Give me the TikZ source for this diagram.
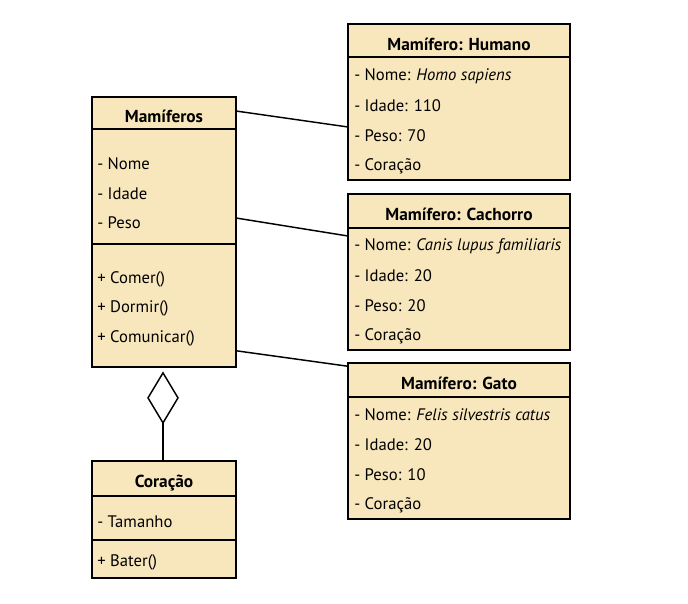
\documentclass[tikz,border=0pt]{standalone}
\usepackage{fontspec}
\setmainfont{PT Sans}
\usetikzlibrary{calc}
\definecolor{boxfill}{RGB}{248,231,189}
\begin{document}
\begin{tikzpicture}[x=0.75pt,y=-0.75pt,
  umlbox/.style={draw=black, line width=1.3pt, fill=boxfill, inner sep=0pt},
  divider/.style={line width=1.3pt},
  conn/.style={line width=1.1pt},
  title/.style={font=\fontsize{13}{15}\selectfont\bfseries, inner sep=0pt},
  attr/.style={font=\fontsize{12.5}{14}\selectfont, anchor=west, inner sep=0pt}]
\useasboundingbox (0,0) rectangle (688,603);
% boxes
\node[umlbox, minimum width=108pt, minimum height=202.5pt] (mam) at (164,232) {};
\node[umlbox, minimum width=108pt, minimum height=87.75pt] (cor) at (164,519.5) {};
\node[umlbox, minimum width=166.5pt, minimum height=117pt] (hum) at (459,102) {};
\node[umlbox, minimum width=166.5pt, minimum height=117pt] (cac) at (459,272) {};
\node[umlbox, minimum width=166.5pt, minimum height=117pt] (gat) at (459,441) {};
% dividers
\draw[divider] ($(mam.north west)+(0,33)$) -- ($(mam.north east)+(0,33)$);
\draw[divider] ($(mam.north west)+(0,148)$) -- ($(mam.north east)+(0,148)$);
\draw[divider] ($(cor.north west)+(0,36)$) -- ($(cor.north east)+(0,36)$);
\draw[divider] ($(cor.north west)+(0,80)$) -- ($(cor.north east)+(0,80)$);
\draw[divider] ($(hum.north west)+(0,34)$) -- ($(hum.north east)+(0,34)$);
\draw[divider] ($(cac.north west)+(0,35)$) -- ($(cac.north east)+(0,35)$);
\draw[divider] ($(gat.north west)+(0,35)$) -- ($(gat.north east)+(0,35)$);
% Mamiferos texts
\node[title] (mamt) at (164,116) {Mamíferos};
\node[attr] (m1) at (97,164) {- Nome};
\node[attr] (m2) at (97,194) {- Idade};
\node[attr] (m3) at (97,223) {- Peso};
\node[attr] (m4) at (97,279) {+ Comer()};
\node[attr] (m5) at (97,308) {+ Dormir()};
\node[attr] (m6) at (97,338) {+ Comunicar()};
% Coracao texts
\node[title] (cort) at (164,483) {Coração};
\node[attr] (c1) at (97,522) {- Tamanho};
\node[attr] (c2) at (97,562) {+ Bater()};
% Humano
\node[title] (humt) at (459,44) {Mamífero: Humano};
\node[attr] (h1) at (354,76) {- Nome: \textit{Homo sapiens}};
\node[attr] (h2) at (354,106) {- Idade: 110};
\node[attr] (h3) at (354,136) {- Peso: 70};
\node[attr] (h4) at (354,166) {- Coração};
% Cachorro
\node[title] (cact) at (459,214) {Mamífero: Cachorro};
\node[attr] (k1) at (354,246) {- Nome: \textit{Canis lupus familiaris}};
\node[attr] (k2) at (354,276) {- Idade: 20};
\node[attr] (k3) at (354,306) {- Peso: 20};
\node[attr] (k4) at (354,336) {- Coração};
% Gato
\node[title] (gatt) at (459,383) {Mamífero: Gato};
\node[attr] (g1) at (354,415) {- Nome: \textit{Felis silvestris catus}};
\node[attr] (g2) at (354,445) {- Idade: 20};
\node[attr] (g3) at (354,475) {- Peso: 10};
\node[attr] (g4) at (354,505) {- Coração};
% connectors
\draw[conn] ($(mam.north east)+(0,15)$) -- ($(hum.south west)+(0,-54)$);
\draw[conn] ($(mam.north east)+(0,122)$) -- ($(cac.south west)+(0,-115)$);
\draw[conn] ($(mam.south east)+(0,-17)$) -- ($(gat.north west)+(0,4)$);
% aggregation
\coordinate (dtop) at ($(mam.south)+(-1,5)$);
\coordinate (dbot) at ($(dtop)+(0,50)$);
\draw[conn, fill=white] (dtop) -- ++(15,25) -- (dbot) -- ++(-15,-25) -- cycle;
\draw[conn] (dbot) -- (dbot |- cor.north);
\end{tikzpicture}
\end{document}
